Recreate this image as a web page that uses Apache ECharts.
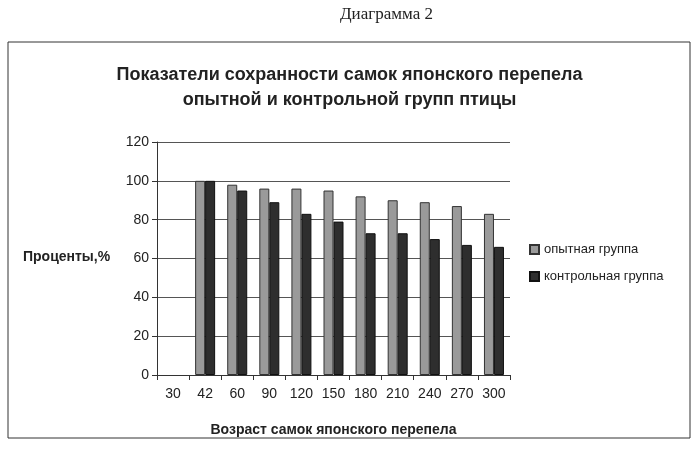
<!DOCTYPE html>
<html lang="ru">
<head>
<meta charset="UTF-8">
<title>Диаграмма 2</title>
<script src="https://cdn.jsdelivr.net/npm/echarts@6/dist/echarts.min.js"></script>
</head>
<body style="margin:0;background:#fff">
<div id="app" style="width:699px;height:458px;"></div>
<script>
// возраст (дни), сохранность, %
const ages = ['30', '42', '60', '90', '120', '150', '180', '210', '240', '270', '300'];
const opytnaya = [null, 100, 98, 96, 96, 95, 92, 90, 89, 87, 83];
const kontrolnaya = [null, 100, 95, 89, 83, 79, 73, 73, 70, 67, 66];
const yTicks = [0, 20, 40, 60, 80, 100, 120];

const chart = echarts.init(document.getElementById('app'));
const font = 'Liberation Sans, Arial, sans-serif';

chart.setOption({
    animation: false,
    graphic: [
        { type: 'rect', shape: { x: 8, y: 42, width: 682, height: 396 },
          style: { fill: 'none', stroke: '#333', lineWidth: 1 } },
        { type: 'text', left: 340, top: 6,
          style: { text: 'Диаграмма 2', font: '17px "Liberation Serif", serif', fill: '#222' } },
        { type: 'text', left: 23, top: 250,
          style: { text: 'Проценты,%', font: 'bold 14px ' + font, fill: '#222' } }
    ],
    title: {
        text: 'Показатели сохранности самок японского перепела\nопытной и контрольной групп птицы',
        left: 'center', top: 58, itemGap: 0,
        textStyle: { fontSize: 18, fontWeight: 'bold', fontFamily: font, color: '#222', lineHeight: 25 }
    },
    legend: {
        orient: 'vertical', left: 524, top: 238, itemGap: 14, icon: 'rect',
        itemWidth: 9, itemHeight: 9,
        textStyle: { fontSize: 13, fontFamily: font, color: '#222' },
        data: ['опытная группа', 'контрольная группа']
    },
    grid: { left: 157, right: 189, top: 142, bottom: 83 },
    xAxis: {
        type: 'category', data: ages,
        name: 'Возраст самок японского перепела', nameLocation: 'middle', nameGap: 48,
        nameTextStyle: { fontSize: 14, fontWeight: 'bold', fontFamily: font, color: '#222' },
        axisLine: { lineStyle: { color: '#333' } },
        axisTick: { show: true, lineStyle: { color: '#333' } },
        axisLabel: { fontSize: 14, fontFamily: font, color: '#222', margin: 12 }
    },
    yAxis: {
        type: 'value', min: 0, max: 120, interval: 20,
        axisLine: { show: true, lineStyle: { color: '#333' } },
        axisTick: { show: true, lineStyle: { color: '#333' } },
        axisLabel: { fontSize: 14, fontFamily: font, color: '#222',
            formatter: v => yTicks.includes(v) ? String(v) : '' },
        splitLine: { lineStyle: { color: '#555' } }
    },
    series: [
        { name: 'опытная группа', type: 'bar', data: opytnaya, barWidth: 10, barGap: '0%',
          itemStyle: { color: '#9a9a9a', borderColor: '#333', borderWidth: 1 } },
        { name: 'контрольная группа', type: 'bar', data: kontrolnaya, barWidth: 10,
          itemStyle: { color: '#2e2e2e', borderColor: '#111', borderWidth: 1 } }
    ]
});
</script>
</body>
</html>
